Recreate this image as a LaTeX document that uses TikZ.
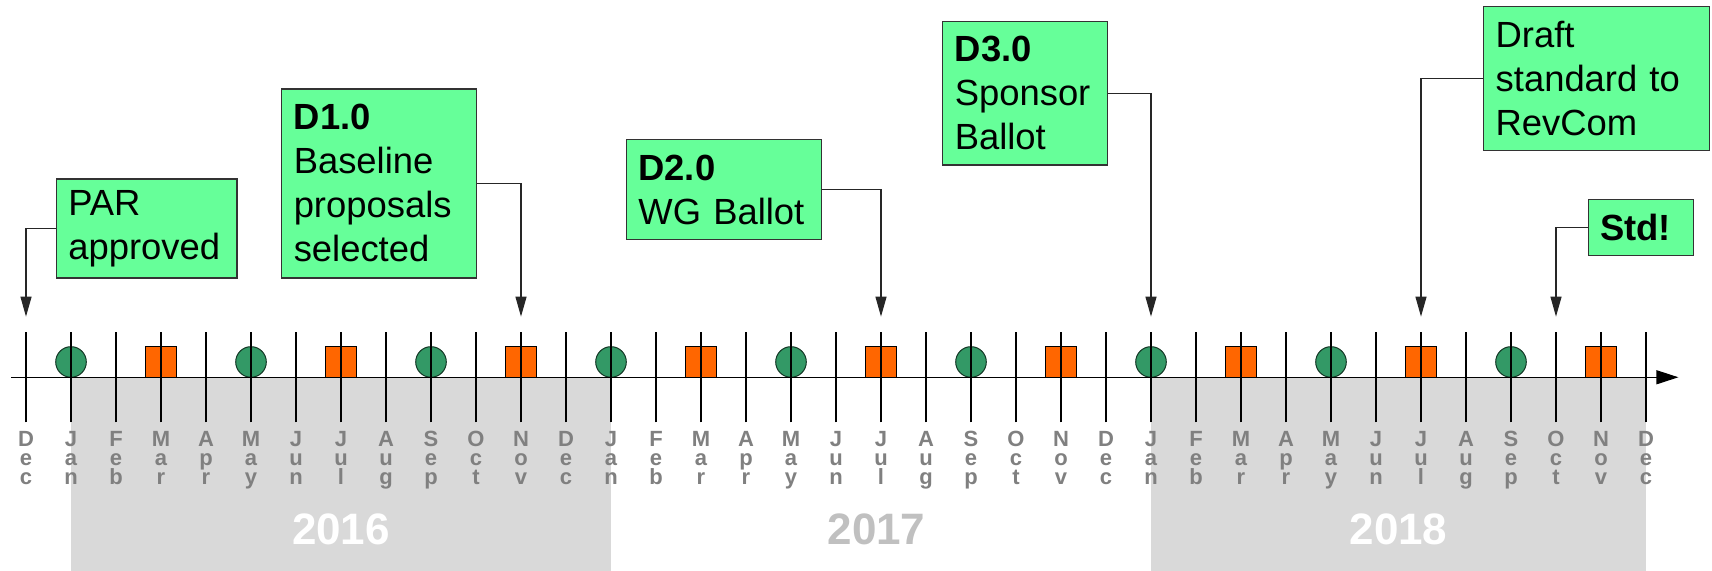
\documentclass[tikz,border=0pt]{standalone}
\usepackage{fontspec}
\setmainfont{Liberation Sans}
\usetikzlibrary{arrows.meta}
\definecolor{boxgreen}{HTML}{66FF99}
\definecolor{meetgreen}{HTML}{339966}
\definecolor{ballotorange}{HTML}{FF6600}
\definecolor{yearshade}{HTML}{D9D9D9}
\definecolor{yeartext}{HTML}{C0C0C0}
\definecolor{monthgrey}{HTML}{808080}

\begin{document}
\begin{tikzpicture}[x=22.5pt,y=22.5pt,
  milestone/.style={draw=black!80,line width=0.6pt,fill=boxgreen,align=left,
    inner xsep=6pt,inner ysep=0pt,anchor=north west,font=\fontsize{18.2}{22}\selectfont},
  callout/.style={draw=black!85,line width=0.6pt,-{Triangle[length=10pt,width=5.5pt]}},
  meeting/.style={draw=black!65!meetgreen,line width=0.5pt,fill=meetgreen},
  ballot/.style={draw=black,line width=0.5pt,fill=ballotorange},
  month/.style={anchor=north,inner sep=0pt,align=center,text=monthgrey,
    font=\fontsize{11}{9.6}\selectfont\bfseries},
  year/.style={anchor=base,font=\fontsize{22}{22}\selectfont\bfseries}]

\useasboundingbox (-0.578,-4.304) rectangle (37.467,8.384) ;

%year shading
\fill [yearshade] (1,0) rectangle (13,-4.304) ;
\fill [yearshade] (25,0) rectangle (36,-4.304) ;

%meetings and ballots
\foreach \x in {1,5,...,33}
  \draw [meeting] (\x,0.34) circle [radius=0.34] ;
\foreach \x in {3,7,...,35}
  \draw [ballot] (\x-0.345,0) rectangle (\x+0.345,0.69) ;

%time axis
\draw [line width=0.6pt,-{Triangle[length=11pt,width=7pt]}] (-0.333,0) -- (36.72,0) ;
\foreach \x in {0,...,36}
  \draw [line width=0.6pt] (\x,-1) -- (\x,1) ;

%month labels
\node [month] (m0) at (0,-1.19) {D\\e\\c} ;
\foreach \yr in {0,12,24}
  \foreach \fst/\snd/\trd [count=\k] in {J/a/n,F/e/b,M/a/r,A/p/r,M/a/y,J/u/n,
      J/u/l,A/u/g,S/e/p,O/c/t,N/o/v,D/e/c}
    {\pgfmathtruncatemacro\i{\yr+\k}
     \node [month] (m\i) at (\i,-1.19) {\fst\\\snd\\\trd} ;}

%year labels
\node [year,text=white] (y2016) at (7,-3.72) {2016} ;
\node [year,text=yeartext] (y2017) at (18.9,-3.72) {2017} ;
\node [year,text=white] (y2018) at (30.5,-3.72) {2018} ;

%milestone boxes
\node [milestone,text width=78.3pt,minimum height=49.5pt] (par) at (0.66,4.42) {PAR\\approved} ;
\node [milestone,text width=85.5pt,minimum height=94.5pt] (d1) at (5.67,6.42) {\textbf{D1.0}\\Baseline\\proposals\\selected} ;
\node [milestone,text width=85.5pt,minimum height=50pt] (d2) at (13.33,5.29) {\textbf{D2.0}\\WG Ballot} ;
\node [milestone,text width=70.3pt,minimum height=71.8pt] (d3) at (20.36,7.92) {\textbf{D3.0}\\Sponsor\\Ballot} ;
\node [milestone,text width=100.7pt,minimum height=72pt] (draft) at (32.38,8.25) {Draft\\standard to\\RevCom} ;
\node [milestone,text width=40.8pt,minimum height=27.8pt] (std) at (34.70,3.96) {\textbf{Std!}} ;

%arrow targets
\coordinate (partip) at (0,1.347) ;
\coordinate (d1tip) at (11,1.347) ;
\coordinate (d2tip) at (19,1.347) ;
\coordinate (d3tip) at (25,1.347) ;
\coordinate (drafttip) at (31,1.347) ;
\coordinate (stdtip) at (34,1.347) ;

%callouts
\draw [callout] (par.west) -| (partip) ;
\draw [callout] (d1.east) -| (d1tip) ;
\draw [callout] (d2.east) -| (d2tip) ;
\draw [callout] (d3.east) -| (d3tip) ;
\draw [callout] (draft.west) -| (drafttip) ;
\draw [callout] (std.west) -| (stdtip) ;

\end{tikzpicture}
\end{document}
